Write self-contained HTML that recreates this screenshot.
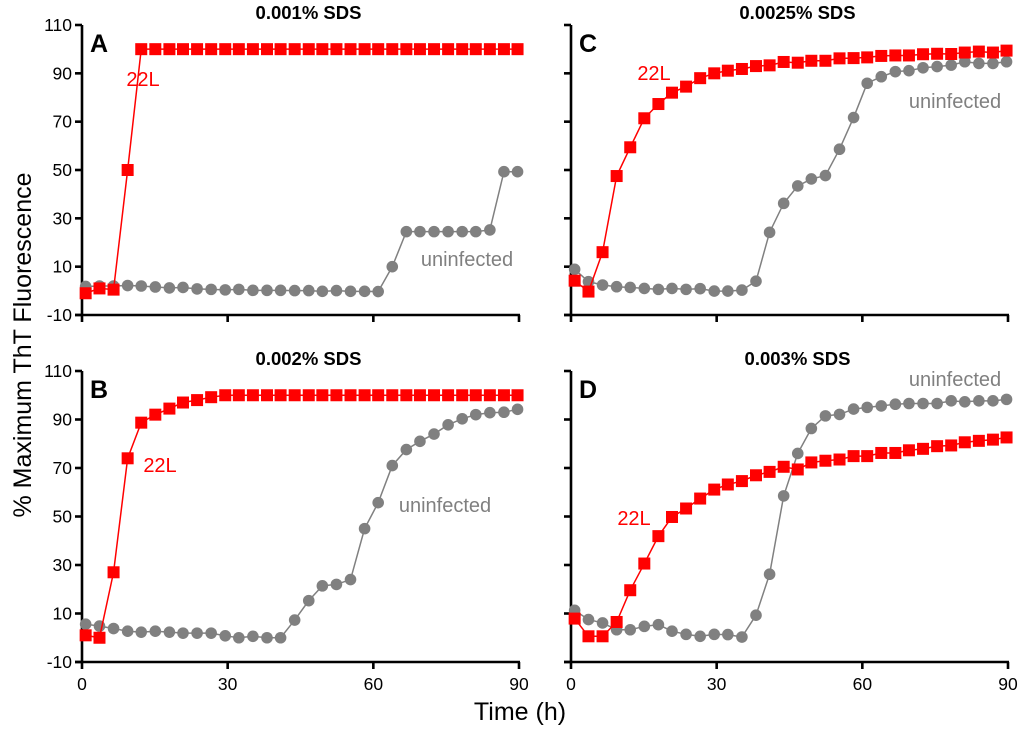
<!DOCTYPE html>
<html><head><meta charset="utf-8"><style>
html,body{margin:0;padding:0;background:#fff;}
svg{display:block;font-family:"Liberation Sans",Arial,sans-serif;}
</style></head><body>
<svg id="chart" width="1024" height="738" viewBox="0 0 1024 738" xmlns="http://www.w3.org/2000/svg">
<text x="0" y="0" transform="translate(31,345) rotate(-90)" text-anchor="middle" font-size="25" fill="#000">% Maximum ThT Fluorescence</text>
<text x="520" y="720" text-anchor="middle" font-size="25" fill="#000">Time (h)</text>
</svg>
<script>
const times = [0.75,3.6,6.5,9.4,12.2,15.1,18.0,20.8,23.7,26.6,29.5,32.3,35.2,38.1,40.9,43.8,46.7,49.5,52.4,55.3,58.2,61.0,63.9,66.8,69.6,72.5,75.4,78.3,81.1,84.0,86.9,89.7];
const xTicks = [0,30,60,90];
const yTicks = [110,90,70,50,30,10,-10];
const titles = ["0.001% SDS","0.002% SDS","0.0025% SDS","0.003% SDS"];
const letters = ["A","B","C","D"];
const redA = [-1,1,0.5,50,100,100,100,100,100,100,100,100,100,100,100,100,100,100,100,100,100,100,100,100,100,100,100,100,100,100,100,100];
const grayA = [1.8,2,2,2.2,2,1.6,1.2,1.4,0.8,0.6,0.4,0.6,0.2,0.2,0.2,0.1,0.1,-0.2,0.1,-0.2,-0.2,-0.3,10,24.5,24.5,24.5,24.5,24.5,24.5,25.2,49.3,49.3];
const redB = [1,0,27,74,88.7,92,94.5,97,98,99.2,100,100,100,100,100,100,100,100,100,100,100,100,100,100,100,100,100,100,100,100,100,100];
const grayB = [5.6,4.8,3.8,2.7,2.3,2.7,2.3,1.9,1.9,1.9,0.8,0,0.6,0,0,7.3,15.3,21.4,22,24,45,55.7,71,77.6,81,84,87.8,90.3,92,92.8,93,94.2];
const redC = [4.2,-0.3,16,47.5,59.4,71.4,77.3,82,84.5,88,90,91.1,91.8,93,93.3,94.7,94.4,95.2,95.2,96.2,96.3,96.6,97.2,97.4,97.4,97.9,98.1,98,98.6,99,98.6,99.4];
const grayC = [8.9,3.8,2.4,1.7,1.4,1,0.6,1,0.6,0.9,-0.1,-0.1,0.3,4,24.2,36.2,43.4,46.3,47.7,58.6,71.7,85.9,88.6,90.7,91.1,92.3,92.8,93.4,94.8,94.1,94.1,94.8];
const redD = [7.9,0.6,0.6,6.5,19.6,30.6,41.9,49.8,53.3,57.4,61.1,63.2,64.6,67,68.4,70.5,69.4,72.3,73,73.5,74.9,74.9,76.2,76.2,77.3,77.9,79,79.3,80.6,81.2,81.7,82.6];
const grayD = [11.3,7.5,6.1,3.3,3.3,4.7,5.4,2.7,1.4,0.6,1.4,1.3,0.3,9.3,26.2,58.5,76,86.3,91.5,92.1,94.3,95,95.6,96.3,96.6,96.6,96.6,97.7,97.3,97.7,97.7,98.3];

const NS="http://www.w3.org/2000/svg";
const svg=document.getElementById('chart');
function mk(tag,attrs,parent){const e=document.createElementNS(NS,tag);for(const k in attrs)e.setAttribute(k,attrs[k]);(parent||svg).appendChild(e);return e;}

const panels=[
 {x0:82,x1:519,yTop:25,yBot:315,red:redA,gray:grayA,xl:false,yl:true,l22:[143,86],lun:[467,266]},
 {x0:82,x1:519,yTop:371,yBot:662,red:redB,gray:grayB,xl:true,yl:true,l22:[160,472],lun:[445,512]},
 {x0:571,x1:1008,yTop:25,yBot:315,red:redC,gray:grayC,xl:false,yl:false,l22:[654,80],lun:[955,108]},
 {x0:571,x1:1008,yTop:371,yBot:662,red:redD,gray:grayD,xl:true,yl:false,l22:[634,525],lun:[955,386]}
];
panels.forEach((p,i)=>{
 const g=mk('g',{});
 
 
 const sx=v=>p.x0+(v-0)/90*(p.x1-p.x0);
 const sy=v=>p.yBot-(v+10)/120*(p.yBot-p.yTop);
 const ya=mk('line',{x1:p.x0,y1:p.yTop,x2:p.x0,y2:p.yBot+1,stroke:'#000','stroke-width':2.6},g);
 
 
 const xa=mk('line',{x1:p.x0-7,y1:p.yBot,x2:p.x1+1,y2:p.yBot,stroke:'#000','stroke-width':2.6},g);
 
 
 yTicks.forEach(v=>{
  const t=mk('line',{x1:p.x0-7,y1:sy(v),x2:p.x0,y2:sy(v),stroke:'#000','stroke-width':2.6},g);
  
  
  if(p.yl){
   const tl=mk('text',{x:p.x0-10,y:sy(v)+6,'text-anchor':'end','font-size':17.5,fill:'#000'},g);
   tl.textContent=v;
   
   
  }
 });
 xTicks.forEach(v=>{
  const t=mk('line',{x1:sx(v),y1:p.yBot,x2:sx(v),y2:p.yBot+7,stroke:'#000','stroke-width':2.6},g);
  
  
  if(p.xl){
   const tl=mk('text',{x:sx(v),y:p.yBot+28,'text-anchor':'middle','font-size':17.5,fill:'#000'},g);
   tl.textContent=v;
   
   
  }
 });
 const ti=mk('text',{x:(p.x0+p.x1)/2+8,y:p.yTop-6,'text-anchor':'middle','font-size':18.5,'font-weight':'bold',fill:'#000'},g);
 ti.textContent=titles[i];
 
 
 const le=mk('text',{x:p.x0+8,y:p.yTop+27,'font-size':25,'font-weight':'bold',fill:'#000'},g);
 le.textContent=letters[i];
 
 
 const gp=mk('polyline',{points:p.gray.map((v,k)=>sx(times[k])+','+sy(v)).join(' '),fill:'none',stroke:'#808080','stroke-width':1.5},g);
 
 
 p.gray.forEach((v,k)=>{
  const c=mk('circle',{cx:sx(times[k]),cy:sy(v),r:5.8,fill:'#808080'},g);
  
  
 });
 const rp=mk('polyline',{points:p.red.map((v,k)=>sx(times[k])+','+sy(v)).join(' '),fill:'none',stroke:'#ff0000','stroke-width':1.5},g);
 
 
 p.red.forEach((v,k)=>{
  const r=mk('rect',{x:sx(times[k])-6,y:sy(v)-6,width:12,height:12,fill:'#ff0000'},g);
  
  
 });
 const a=mk('text',{x:p.l22[0],y:p.l22[1],'text-anchor':'middle','font-size':20,fill:'#ff0000'},g);
 a.textContent='22L';
 
 
 const b=mk('text',{x:p.lun[0],y:p.lun[1],'text-anchor':'middle','font-size':20,fill:'#808080'},g);
 b.textContent='uninfected';
 
 
});
</script>
</body></html>
